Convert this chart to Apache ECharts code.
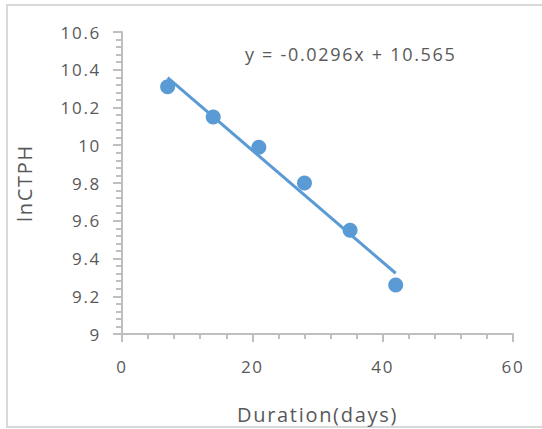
<!DOCTYPE html>
<html>
<head>
<meta charset="utf-8">
<script src="https://cdn.jsdelivr.net/npm/echarts@6/dist/echarts.min.js"></script>
<style>
  html, body { margin: 0; padding: 0; background: #ffffff; }
  #chart { width: 542px; height: 429px; }
  /* airy, widely tracked lettering for all chart text */
  #chart svg text { letter-spacing: 1.7px; }
</style>
</head>
<body>
<div id="chart"></div>
<script>
// Sampling days and measured lnCTPH values
const durationDays = [7, 14, 21, 28, 35, 42];
const lnCTPH = [10.31, 10.15, 9.99, 9.80, 9.55, 9.26];

// Linear trendline coefficients (y = slope * x + intercept)
const trendSlope = [-0.0296];
const trendIntercept = [10.565];

// Axis ranges and tick steps
const xTicks = [0, 20, 40, 60];
const yTicks = [9, 9.2, 9.4, 9.6, 9.8, 10, 10.2, 10.4, 10.6];

const points = durationDays.map((d, i) => [d, lnCTPH[i]]);
const xStart = durationDays[0];
const xEnd = durationDays[durationDays.length - 1];
const trendPoints = [xStart, xEnd].map(x => [x, trendIntercept[0] + trendSlope[0] * x]);
const equationText = 'y = ' + trendSlope[0] + 'x + ' + trendIntercept[0];

const textColor = '#595959';
const axisGray = '#bfbfbf';
const blue = '#5b9bd5';
const font = '"Open Sans", "Noto Sans", sans-serif';

const chart = echarts.init(document.getElementById('chart'), null, { renderer: 'svg' });

chart.setOption({
  animation: false,
  backgroundColor: '#ffffff',
  grid: { left: 122, right: 29, top: 32, bottom: 94, containLabel: false },
  xAxis: {
    type: 'value',
    min: xTicks[0],
    max: xTicks[xTicks.length - 1],
    interval: xTicks[1] - xTicks[0],
    name: 'Duration(days)',
    nameLocation: 'middle',
    nameGap: 70,
    nameTextStyle: { color: textColor, fontSize: 20, fontFamily: font },
    axisLine: { show: true, lineStyle: { color: axisGray, width: 2 } },
    axisTick: { show: true, length: 8, lineStyle: { color: axisGray, width: 2 } },
    minorTick: { show: true, splitNumber: 5, length: 5, lineStyle: { color: axisGray, width: 2 } },
    axisLabel: { color: textColor, fontSize: 17, fontFamily: font, margin: 24 },
    splitLine: { show: false }
  },
  yAxis: {
    type: 'value',
    min: yTicks[0],
    max: yTicks[yTicks.length - 1],
    interval: 0.2,
    name: 'lnCTPH',
    nameLocation: 'middle',
    nameGap: 88,
    nameTextStyle: { color: textColor, fontSize: 20, fontFamily: font },
    axisLine: { show: true, lineStyle: { color: axisGray, width: 2 } },
    axisTick: { show: true, length: 9, lineStyle: { color: axisGray, width: 2 } },
    minorTick: { show: true, splitNumber: 5, length: 6, lineStyle: { color: axisGray, width: 2 } },
    axisLabel: { color: textColor, fontSize: 17, fontFamily: font, margin: 21 },
    splitLine: { show: false }
  },
  graphic: [
    {
      type: 'rect',
      silent: true,
      shape: { x: 7, y: 5, width: 600, height: 422 },
      style: { fill: 'none', stroke: '#d9d9d9', lineWidth: 2 }
    },
    {
      type: 'text',
      left: 245,
      top: 45,
      style: { text: equationText, fill: textColor, fontSize: 18, fontFamily: font }
    }
  ],
  series: [
    {
      type: 'line',
      data: trendPoints,
      symbol: 'none',
      lineStyle: { color: blue, width: 3 },
      z: 2
    },
    {
      type: 'scatter',
      data: points,
      symbol: 'circle',
      symbolSize: 15,
      itemStyle: { color: blue, opacity: 1 },
      z: 3
    }
  ]
});
</script>
</body>
</html>
